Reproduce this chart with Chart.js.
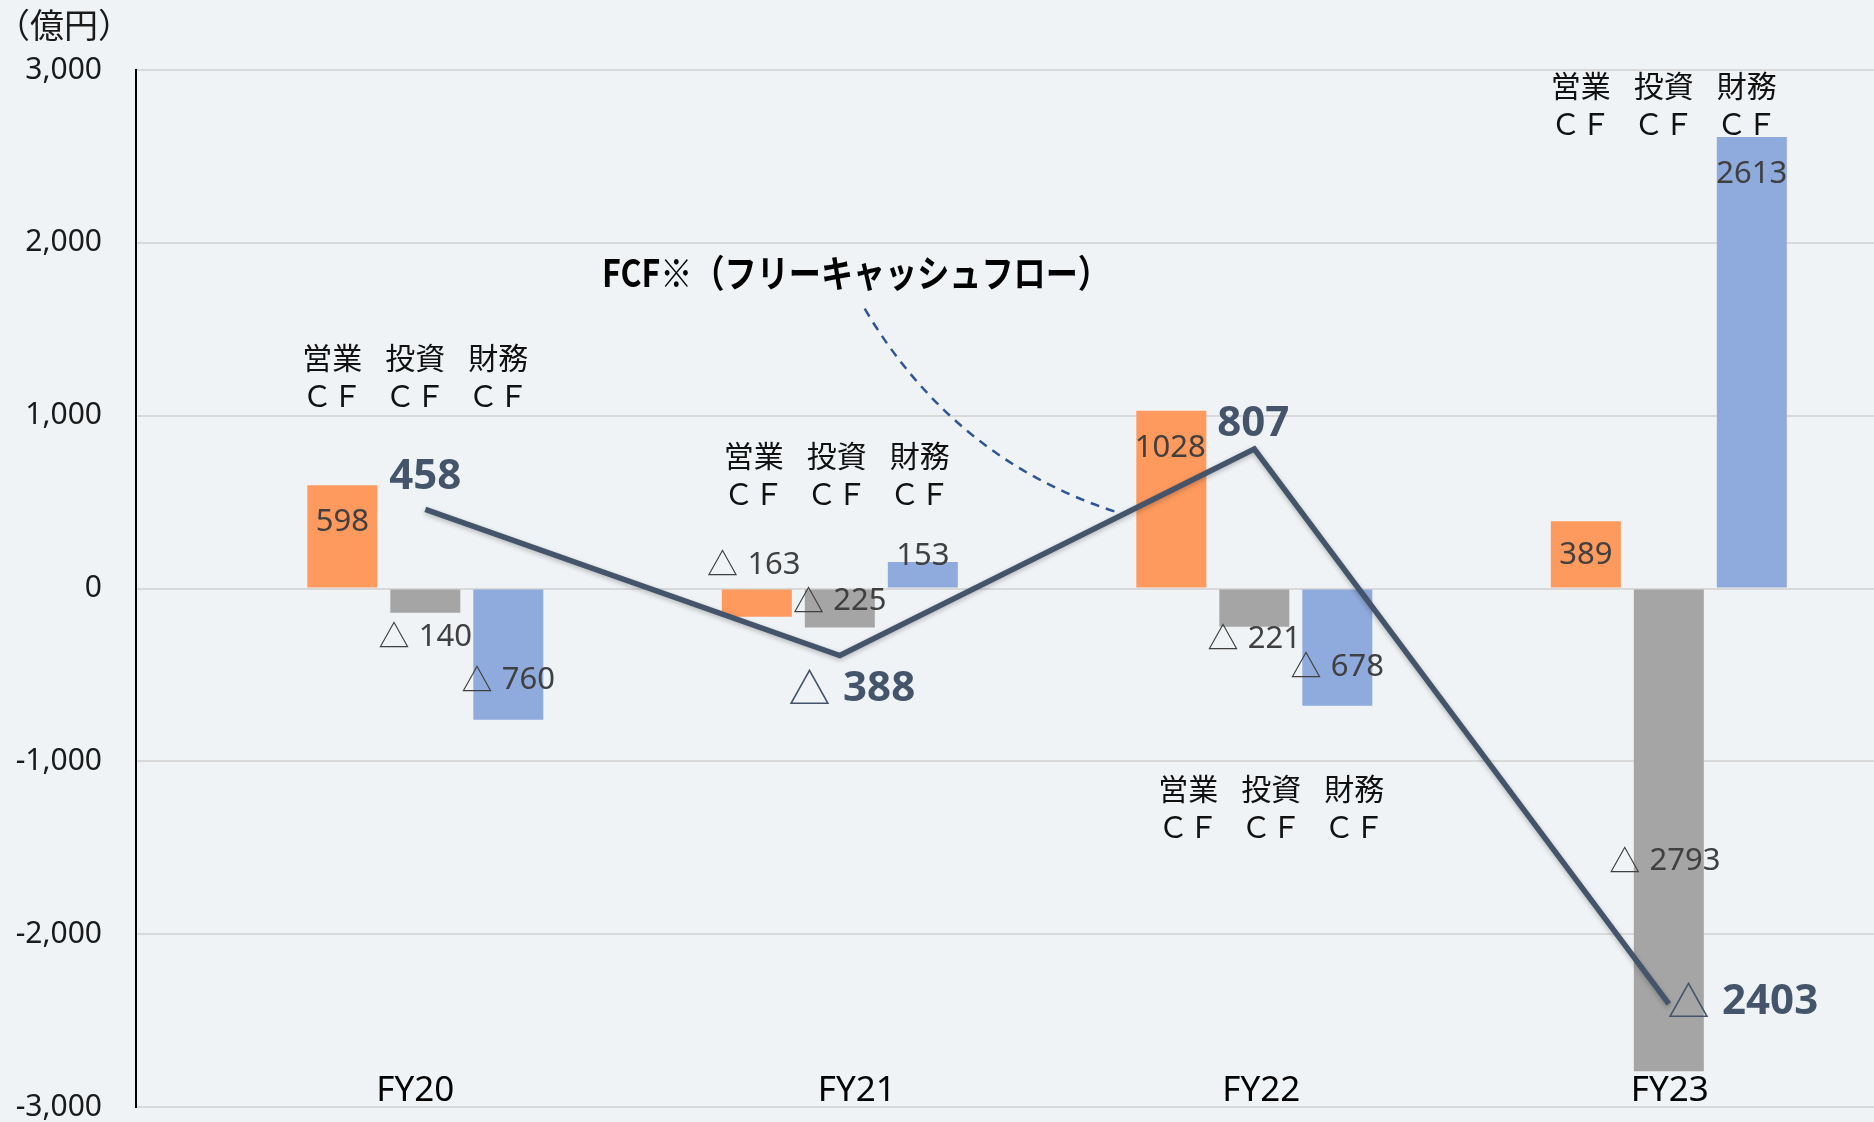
<!DOCTYPE html>
<html lang="ja">
<head>
<meta charset="utf-8">
<script src="https://cdn.jsdelivr.net/npm/chart.js@4.4.1/dist/chart.umd.min.js"></script>
<style>
  html, body { margin: 0; padding: 0; background: #F0F3F5; }
  #wrap { width: 1874px; height: 1122px; }
</style>
</head>
<body>
<div id="wrap"><canvas id="cfChart" width="1874" height="1122"></canvas></div>
<script>
// Values (億円)
const categories = ["FY20", "FY21", "FY22", "FY23"];
const operatingCF = [598, -163, 1028, 389];
const investingCF = [-140, -225, -221, -2793];
const financingCF = [-760, 153, -678, 2613];
const freeCF = [458, -388, 807, -2403];
const yTicks = [-3000, -2000, -1000, 0, 1000, 2000, 3000];
const headerNames = ["営業", "投資", "財務"];

// where the hand-placed labels sit (px shift from bar end / point)
const barLabelShift = [
  [[0, 37], [-3, -53], [-1, 37], [0, 34]],
  [[0, 23], [0, -27], [0, 11], [-4, -211]],
  [[0, -41], [0, -6], [0, -40], [0, 37]]
];
const fcfLabelShift = [[0, -32], [12, 32], [-1, -25], [74, -3]];
const headerRowValue = [1336, 768, -1160, 2910];   // in axis units
const headerShiftX = [-10, -3, 17, -5];
const catShiftX = [-10, 17, 7, 1];

const toPts = arr => arr.map((v, i) => ({ x: i, y: v }));

function drawSigned(ctx, v, x, y, size, bold, color) {
  const numFont = (bold ? "bold " : "") + size + 'px "Noto Sans", "Noto Sans CJK JP"';
  const triFont = size + 'px "Noto Sans CJK JP"';
  ctx.fillStyle = color;
  ctx.textBaseline = "middle";
  ctx.textAlign = "left";
  const digits = String(Math.abs(v));
  ctx.font = numFont;
  const dw = ctx.measureText(digits).width;
  if (v >= 0) {
    ctx.fillText(digits, x - dw / 2, y);
    return;
  }
  ctx.font = triFont;
  const tw = ctx.measureText("△").width;
  const gap = size * 0.3;
  const left = x - (tw + gap + dw) / 2;
  ctx.fillText("△", left, y);
  ctx.font = numFont;
  ctx.fillText(digits, left + tw + gap, y + size * 0.04);
}

const annotate = {
  id: "annotate",
  beforeDatasetDraw(chart, args) {
    if (args.index === 0) {
      const ctx = chart.ctx;
      ctx.save();
      ctx.shadowColor = "rgba(0,0,0,0.25)";
      ctx.shadowBlur = 5;
      ctx.shadowOffsetY = 2;
    }
  },
  afterDatasetDraw(chart, args) {
    if (args.index === 0) chart.ctx.restore();
  },
  afterDatasetsDraw(chart) {
    const { ctx, chartArea, scales: { x, y } } = chart;
    ctx.save();

    // unit label
    ctx.fillStyle = "#1a1a1a";
    ctx.font = '34px "Noto Sans CJK JP"';
    ctx.textAlign = "center";
    ctx.textBaseline = "middle";
    ctx.fillText("（億円）", 64, 25);

    // bar value labels
    for (let d = 1; d <= 3; d++) {
      const meta = chart.getDatasetMeta(d);
      meta.data.forEach((el, i) => {
        const v = chart.data.datasets[d].data[i].y;
        const s = barLabelShift[d - 1][i];
        drawSigned(ctx, v, el.x + s[0], el.y + s[1], 31, false, "#404040");
      });
    }

    // FCF labels
    const lineMeta = chart.getDatasetMeta(0);
    lineMeta.data.forEach((pt, i) => {
      const s = fcfLabelShift[i];
      drawSigned(ctx, freeCF[i], pt.x + s[0], pt.y + s[1], 42, true, "#44546A");
    });

    // group headers
    const barMetas = [1, 2, 3].map(d => chart.getDatasetMeta(d));
    ctx.fillStyle = "#111";
    ctx.font = '30px "Noto Sans CJK JP"';
    ctx.textAlign = "center";
    ctx.textBaseline = "middle";
    categories.forEach((c, i) => {
      const row1 = y.getPixelForValue(headerRowValue[i]);
      barMetas.forEach((m, k) => {
        const cx = m.data[i].x + headerShiftX[i];
        ctx.fillText(headerNames[k], cx, row1);
        ctx.fillText("ＣＦ", cx, row1 + 38);
      });
    });

    // category labels inside the plot, above the bottom grid line
    ctx.fillStyle = "#000";
    ctx.font = '35px "Noto Sans"';
    categories.forEach((c, i) => {
      ctx.fillText(c, x.getPixelForValue(i) + catShiftX[i], chartArea.bottom - 16);
    });

    // FCF callout
    const tx = x.getPixelForValue(1.039), ty = y.getPixelForValue(1827);
    const title = "FCF※（フリーキャッシュフロー）";
    ctx.font = 'bold 36px "Noto Sans CJK JP"';
    const w = ctx.measureText(title).width;
    ctx.save();
    ctx.translate(tx, ty);
    ctx.scale(508 / w, 1.05);
    ctx.fillStyle = "#000";
    ctx.fillText(title, 0, 0);
    ctx.restore();

    ctx.strokeStyle = "#2F5597";
    ctx.lineWidth = 2.5;
    ctx.setLineDash([9, 7]);
    ctx.beginPath();
    ctx.moveTo(x.getPixelForValue(1.06), y.getPixelForValue(1619));
    ctx.quadraticCurveTo(x.getPixelForValue(1.277), y.getPixelForValue(739),
                         x.getPixelForValue(1.673), y.getPixelForValue(438));
    ctx.stroke();
    ctx.restore();
  }
};

new Chart(document.getElementById("cfChart"), {
  type: "bar",
  data: {
    datasets: [
      {
        type: "line",
        label: "FCF",
        data: toPts(freeCF),
        borderColor: "#44546A",
        borderWidth: 5.5,
        pointRadius: 0,
        tension: 0,
        order: 0
      },
      { label: "営業CF", data: toPts(operatingCF), backgroundColor: "#FF9A5E", order: 1 },
      { label: "投資CF", data: toPts(investingCF), backgroundColor: "#A5A5A5", order: 1 },
      { label: "財務CF", data: toPts(financingCF), backgroundColor: "#8FAADC", order: 1 }
    ]
  },
  options: {
    responsive: false,
    animation: false,
    devicePixelRatio: 1,
    datasets: { bar: { categoryPercentage: 0.6007, barPercentage: 0.8434 } },
    layout: { padding: { top: 70, right: 0, bottom: 15, left: 0 } },
    plugins: { legend: { display: false }, tooltip: { enabled: false } },
    scales: {
      x: {
        type: "linear",
        display: false,
        offset: false,
        min: -0.698,
        max: 3.495,
        afterBuildTicks: s => { s.ticks = categories.map((c, i) => ({ value: i })); },
        grid: { display: false, offset: false },
        border: { display: false },
        ticks: { display: false }
      },
      y: {
        min: -3000,
        max: 3000,
        afterBuildTicks: s => { s.ticks = yTicks.map(v => ({ value: v })); },
        afterFit: s => { s.width = 136; s.paddingTop = 0; s.paddingBottom = 0; },
        grid: { color: "#D9D9D9", lineWidth: 2, drawTicks: false },
        border: { display: true, color: "#000", width: 2 },
        ticks: {
          padding: 34,
          color: "#1a1a1a",
          font: { family: "Noto Sans", size: 30 },
          callback: v => v.toLocaleString("en-US")
        }
      }
    }
  },
  plugins: [annotate]
});
</script>
</body>
</html>
